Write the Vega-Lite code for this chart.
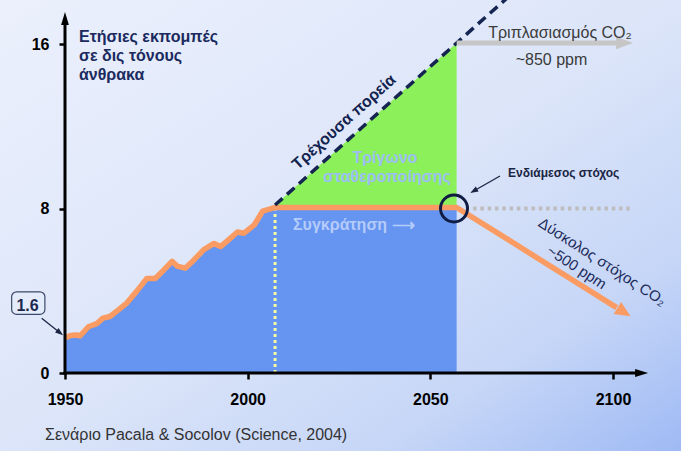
{
  "$schema": "https://vega.github.io/schema/vega-lite/v6.json",
  "width": 681,
  "height": 451,
  "padding": 0,
  "autosize": "none",
  "background": "#dfe7fa",
  "config": {"view": {"stroke": null}, "font": "Liberation Sans"},
  "datasets": {
    "emis": [
      {"year": 1950, "value": 1.7, "phase": "past"},
      {"year": 1951.5, "value": 1.82, "phase": "past"},
      {"year": 1953.2, "value": 1.85, "phase": "past"},
      {"year": 1954.1, "value": 1.8, "phase": "past"},
      {"year": 1956.4, "value": 2.25, "phase": "past"},
      {"year": 1958.7, "value": 2.4, "phase": "past"},
      {"year": 1960.4, "value": 2.67, "phase": "past"},
      {"year": 1962.3, "value": 2.75, "phase": "past"},
      {"year": 1964.1, "value": 3.0, "phase": "past"},
      {"year": 1966.9, "value": 3.4, "phase": "past"},
      {"year": 1969.6, "value": 3.97, "phase": "past"},
      {"year": 1972.4, "value": 4.6, "phase": "past"},
      {"year": 1974.7, "value": 4.6, "phase": "past"},
      {"year": 1977.0, "value": 5.0, "phase": "past"},
      {"year": 1979.3, "value": 5.43, "phase": "past"},
      {"year": 1980.7, "value": 5.2, "phase": "past"},
      {"year": 1982.9, "value": 5.1, "phase": "past"},
      {"year": 1985.3, "value": 5.5, "phase": "past"},
      {"year": 1988.0, "value": 6.0, "phase": "past"},
      {"year": 1990.8, "value": 6.3, "phase": "past"},
      {"year": 1992.6, "value": 6.15, "phase": "past"},
      {"year": 1994.9, "value": 6.5, "phase": "past"},
      {"year": 1997.2, "value": 6.86, "phase": "past"},
      {"year": 1999.0, "value": 6.8, "phase": "past"},
      {"year": 2001.8, "value": 7.2, "phase": "past"},
      {"year": 2004.1, "value": 7.87, "phase": "past"},
      {"year": 2005.5, "value": 7.95, "phase": "past"},
      {"year": 2007.5, "value": 8.05, "phase": "past"},
      {"year": 2057.2, "value": 8.05, "phase": "hold"},
      {"year": 2101.0, "value": 3.18, "phase": "drop"}
    ],
    "wedge": [
      {"year": 2007.5, "lo": 8.05, "hi": 8.17},
      {"year": 2057.2, "lo": 8.05, "hi": 16.05}
    ],
    "trend": [
      {"year": 2007.5, "value": 8.17},
      {"year": 2075, "value": 18.87}
    ]
  },
  "layer": [
    {
      "data": {"values": [{"panel": "bg"}]},
      "mark": {"type": "rect", "color": {"gradient": "linear", "x1": 0, "y1": 0, "x2": 1, "y2": 1, "stops": [{"offset": 0, "color": "#ebf0fc"}, {"offset": 0.5, "color": "#dce5f9"}, {"offset": 0.78, "color": "#c6d6f7"}, {"offset": 1, "color": "#9fbaf4"}]}},
      "encoding": {}
    },
    {
      "data": {"name": "emis"},
      "transform": [{"filter": "datum.phase != 'drop'"}],
      "mark": {"type": "area", "color": "#6595f0", "opacity": 1},
      "encoding": {
        "x": {"field": "year", "type": "quantitative", "scale": {"domain": [1932.21, 2118.61], "nice": false, "zero": false},
          "axis": {"values": [1950, 2000, 2050, 2100], "format": "d", "domain": false, "grid": false, "offset": -78, "zindex": 2, "tickColor": "black", "tickWidth": 2.5, "tickSize": 6, "labelFont": "Liberation Sans", "labelFontWeight": "bold", "labelFontSize": 16, "labelColor": "black", "labelPadding": 12, "labelFlush": false, "labelOverlap": false, "labelBound": false, "title": null}},
        "y": {"field": "value", "type": "quantitative", "scale": {"domain": [-3.793, 18.14], "nice": false, "zero": false},
          "axis": {"values": [0, 8, 16], "domain": false, "grid": false, "offset": -65, "zindex": 2, "tickColor": "black", "tickWidth": 2.5, "tickSize": 6, "labelFont": "Liberation Sans", "labelFontWeight": "bold", "labelFontSize": 16, "labelColor": "black", "labelPadding": 10, "labelFlush": false, "labelOverlap": false, "labelBound": false, "title": null}},
        "y2": {"datum": 0}
      }
    },
    {
      "data": {"name": "wedge"},
      "mark": {"type": "area", "color": "#8cf05b", "opacity": 1},
      "encoding": {
        "x": {"field": "year", "type": "quantitative"},
        "y": {"field": "hi", "type": "quantitative"},
        "y2": {"field": "lo"}
      }
    },
    {
      "data": {"values": [{"year": 2007.5, "bottom": 0, "top": 7.9}]},
      "mark": {"type": "rule", "color": "#f5fba0", "strokeWidth": 3, "strokeDash": [3, 3]},
      "encoding": {
        "x": {"field": "year", "type": "quantitative"},
        "y": {"field": "bottom", "type": "quantitative"},
        "y2": {"field": "top"}
      }
    },
    {
      "data": {"values": [
        {"year": 2037.59, "value": 10.46, "label": "Τρίγωνο"},
        {"year": 2038.14, "value": 9.53, "label": "σταθεροποίησης"}
      ]},
      "mark": {"type": "text", "align": "center", "baseline": "middle", "fontSize": 16, "fontWeight": "bold", "color": "#9dbef3"},
      "encoding": {
        "x": {"field": "year", "type": "quantitative"},
        "y": {"field": "value", "type": "quantitative"},
        "text": {"field": "label"}
      }
    },
    {
      "data": {"values": [{"year": 2012.41, "value": 7.2, "label": "Συγκράτηση  ⟶"}]},
      "mark": {"type": "text", "align": "left", "baseline": "middle", "fontSize": 16, "fontWeight": "bold", "color": "#b5cbfa"},
      "encoding": {
        "x": {"field": "year", "type": "quantitative"},
        "y": {"field": "value", "type": "quantitative"},
        "text": {"field": "label"}
      }
    },
    {
      "data": {"name": "emis"},
      "mark": {"type": "line", "color": "#f99b62", "strokeWidth": 5.5, "strokeJoin": "round"},
      "encoding": {
        "x": {"field": "year", "type": "quantitative"},
        "y": {"field": "value", "type": "quantitative"},
        "order": {"field": "year"}
      }
    },
    {
      "data": {"values": [{"year": 2103.0, "value": 2.96}]},
      "mark": {"type": "point", "shape": "M1,0L-1,-0.9L-1,0.9Z", "filled": true, "color": "#f99b62", "opacity": 1, "size": 240, "angle": 32, "strokeWidth": 0},
      "encoding": {
        "x": {"field": "year", "type": "quantitative"},
        "y": {"field": "value", "type": "quantitative"}
      }
    },
    {
      "data": {"name": "trend"},
      "mark": {"type": "line", "color": "#152450", "strokeWidth": 3.5, "strokeDash": [10, 6]},
      "encoding": {
        "x": {"field": "year", "type": "quantitative"},
        "y": {"field": "value", "type": "quantitative"}
      }
    },
    {
      "data": {"values": [{"start": 2061.7, "end": 2104.6, "level": 8.0}]},
      "mark": {"type": "rule", "color": "#bdbdbd", "strokeWidth": 4, "strokeDash": [3.5, 3.8]},
      "encoding": {
        "x": {"field": "start", "type": "quantitative"},
        "x2": {"field": "end"},
        "y": {"field": "level", "type": "quantitative"}
      }
    },
    {
      "data": {"values": [{"start": 2057.2, "end": 2101.5, "level": 16.05}]},
      "mark": {"type": "rule", "color": "#c6c6c6", "strokeWidth": 5},
      "encoding": {
        "x": {"field": "start", "type": "quantitative"},
        "x2": {"field": "end"},
        "y": {"field": "level", "type": "quantitative"}
      }
    },
    {
      "data": {"values": [{"year": 2103.15, "value": 16.05}]},
      "mark": {"type": "point", "shape": "M1,0L-1,-0.75L-1,0.75Z", "filled": true, "color": "#c6c6c6", "opacity": 1, "size": 289, "strokeWidth": 0},
      "encoding": {
        "x": {"field": "year", "type": "quantitative"},
        "y": {"field": "value", "type": "quantitative"}
      }
    },
    {
      "data": {"values": [{"year": 2056.48, "value": 8.0}]},
      "mark": {"type": "point", "shape": "circle", "filled": false, "color": "#101c44", "strokeWidth": 3, "opacity": 1, "size": 729},
      "encoding": {
        "x": {"field": "year", "type": "quantitative"},
        "y": {"field": "value", "type": "quantitative"}
      }
    },
    {
      "data": {"values": [{"start": 1949.6, "end": 2107.5, "level": 0}]},
      "mark": {"type": "rule", "color": "black", "strokeWidth": 3},
      "encoding": {
        "x": {"field": "start", "type": "quantitative"},
        "x2": {"field": "end"},
        "y": {"field": "level", "type": "quantitative"}
      }
    },
    {
      "data": {"values": [{"at": 1950, "bottom": -0.07, "top": 17.2}]},
      "mark": {"type": "rule", "color": "black", "strokeWidth": 3},
      "encoding": {
        "x": {"field": "at", "type": "quantitative"},
        "y": {"field": "bottom", "type": "quantitative"},
        "y2": {"field": "top"}
      }
    },
    {
      "data": {"values": [{"year": 2107.84, "value": 0}]},
      "mark": {"type": "point", "shape": "M1,0L-1,-0.6L-1,0.6Z", "filled": true, "color": "black", "opacity": 1, "size": 169, "strokeWidth": 0},
      "encoding": {
        "x": {"field": "year", "type": "quantitative"},
        "y": {"field": "value", "type": "quantitative"}
      }
    },
    {
      "data": {"values": [{"year": 1950, "value": 17.24}]},
      "mark": {"type": "point", "shape": "M0,-1L0.6,1L-0.6,1Z", "filled": true, "color": "black", "opacity": 1, "size": 169, "strokeWidth": 0},
      "encoding": {
        "x": {"field": "year", "type": "quantitative"},
        "y": {"field": "value", "type": "quantitative"}
      }
    },
    {
      "data": {"values": [
        {"x1": 2069.07, "y1": 9.58, "x2": 2061.87, "y2": 8.85},
        {"x1": 1943.62, "y1": 2.66, "x2": 1948.62, "y2": 1.955}
      ]},
      "mark": {"type": "rule", "color": "#1a2544", "strokeWidth": 1.3},
      "encoding": {
        "x": {"field": "x1", "type": "quantitative"},
        "y": {"field": "y1", "type": "quantitative"},
        "x2": {"field": "x2"},
        "y2": {"field": "y2"}
      }
    },
    {
      "data": {"values": [
        {"year": 2061.87, "value": 8.85, "dir": 150},
        {"year": 1948.62, "value": 1.955, "dir": 38.5}
      ]},
      "mark": {"type": "point", "shape": "M1,0L-1,-0.7L-1,0.7Z", "filled": true, "color": "#1a2544", "opacity": 1, "size": 64, "strokeWidth": 0},
      "encoding": {
        "x": {"field": "year", "type": "quantitative"},
        "y": {"field": "value", "type": "quantitative"},
        "angle": {"field": "dir", "type": "quantitative", "scale": null}
      }
    },
    {
      "data": {"values": [{"left": 1935.4, "right": 1944.5, "top": 3.95, "bottom": 2.85}]},
      "mark": {"type": "rect", "cornerRadius": 5, "fill": "#e4ebfa", "stroke": "#3c4a6a", "strokeWidth": 1.2},
      "encoding": {
        "x": {"field": "left", "type": "quantitative"},
        "x2": {"field": "right"},
        "y": {"field": "top", "type": "quantitative"},
        "y2": {"field": "bottom"}
      }
    },
    {
      "data": {"values": [{"year": 1939.74, "value": 3.28, "label": "1.6"}]},
      "mark": {"type": "text", "align": "center", "baseline": "middle", "fontSize": 16, "fontWeight": "bold", "color": "#1c2850"},
      "encoding": {
        "x": {"field": "year", "type": "quantitative"},
        "y": {"field": "value", "type": "quantitative"},
        "text": {"field": "label"}
      }
    },
    {
      "data": {"values": [
        {"year": 1953.83, "value": 16.11, "label": "Ετήσιες εκπομπές"},
        {"year": 1953.83, "value": 15.17, "label": "σε δις τόνους"},
        {"year": 1953.83, "value": 14.23, "label": "άνθρακα"}
      ]},
      "mark": {"type": "text", "align": "left", "baseline": "alphabetic", "fontSize": 16, "fontWeight": "bold", "color": "#1b2a5e"},
      "encoding": {
        "x": {"field": "year", "type": "quantitative"},
        "y": {"field": "value", "type": "quantitative"},
        "text": {"field": "label"}
      }
    },
    {
      "data": {"values": [{"year": 2026.37, "value": 12.21, "label": "Τρέχουσα πορεία"}]},
      "mark": {"type": "text", "align": "center", "baseline": "middle", "fontSize": 16, "fontWeight": "bold", "color": "#14234f", "angle": -42},
      "encoding": {
        "x": {"field": "year", "type": "quantitative"},
        "y": {"field": "value", "type": "quantitative"},
        "text": {"field": "label"}
      }
    },
    {
      "data": {"values": [{"year": 2071.26, "value": 9.73, "label": "Ενδιάμεσος στόχος"}]},
      "mark": {"type": "text", "align": "left", "baseline": "middle", "fontSize": 12, "fontWeight": "bold", "color": "#1a2544"},
      "encoding": {
        "x": {"field": "year", "type": "quantitative"},
        "y": {"field": "value", "type": "quantitative"},
        "text": {"field": "label"}
      }
    },
    {
      "data": {"values": [
        {"year": 2085.49, "value": 16.535, "label": "Τριπλασιασμός CO₂"},
        {"year": 2083.17, "value": 15.22, "label": "~850 ppm"}
      ]},
      "mark": {"type": "text", "align": "center", "baseline": "middle", "fontSize": 16, "color": "#3a3a3a"},
      "encoding": {
        "x": {"field": "year", "type": "quantitative"},
        "y": {"field": "value", "type": "quantitative"},
        "text": {"field": "label"}
      }
    },
    {
      "data": {"values": [
        {"year": 2097.07, "value": 5.41, "label": "Δύσκολος στόχος CO₂"},
        {"year": 2090.07, "value": 5.14, "label": "~500 ppm"}
      ]},
      "mark": {"type": "text", "align": "center", "baseline": "middle", "fontSize": 15, "color": "#1c2a5a", "angle": 33},
      "encoding": {
        "x": {"field": "year", "type": "quantitative"},
        "y": {"field": "value", "type": "quantitative"},
        "text": {"field": "label"}
      }
    },
    {
      "data": {"values": [{"year": 1944.53, "value": -3.015, "label": "Σενάριο Pacala & Socolov (Science, 2004)"}]},
      "mark": {"type": "text", "align": "left", "baseline": "middle", "fontSize": 16, "color": "#333333"},
      "encoding": {
        "x": {"field": "year", "type": "quantitative"},
        "y": {"field": "value", "type": "quantitative"},
        "text": {"field": "label"}
      }
    }
  ]
}
